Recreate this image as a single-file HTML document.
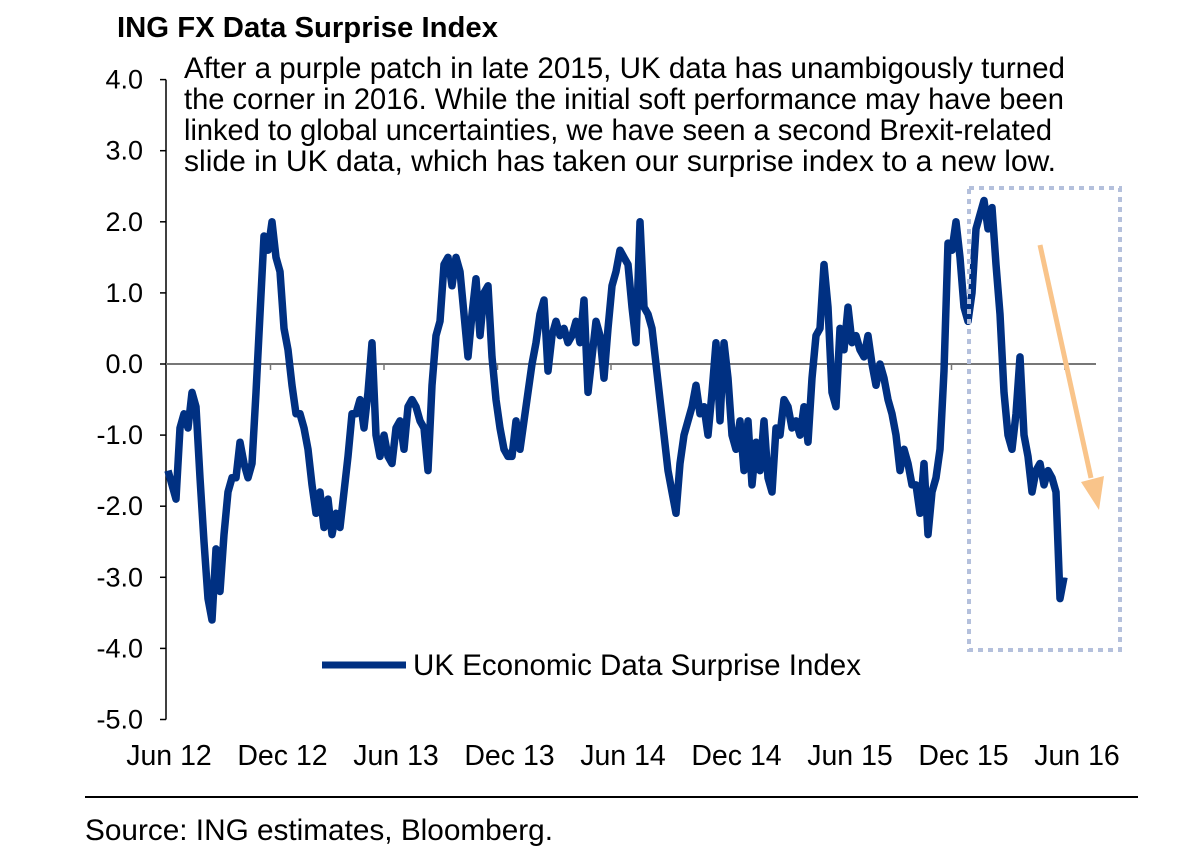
<!DOCTYPE html>
<html><head><meta charset="utf-8"><style>
body{margin:0;background:#fff;}
svg text{font-family:"Liberation Sans",Arial,sans-serif;fill:#000;}
</style></head><body>
<svg width="1190" height="856" viewBox="0 0 1190 856">
<text x="117" y="37" font-size="29" font-weight="bold" textLength="381" lengthAdjust="spacingAndGlyphs">ING FX Data Surprise Index</text>
<g font-size="29.5">
<text x="184" y="78" textLength="881" lengthAdjust="spacingAndGlyphs">After a purple patch in late 2015, UK data has unambigously turned</text>
<text x="184" y="109" textLength="880" lengthAdjust="spacingAndGlyphs">the corner in 2016. While the initial soft performance may have been</text>
<text x="184" y="140" textLength="868" lengthAdjust="spacingAndGlyphs">linked to global uncertainties, we have seen a second Brexit-related</text>
<text x="184" y="171" textLength="872" lengthAdjust="spacingAndGlyphs">slide in UK data, which has taken our surprise index to a new low.</text>
</g>
<g id="axes"></g>
<g id="series"></g>
<rect x="969" y="188" width="151" height="462" fill="none" stroke="#b4c0dc" stroke-width="4" stroke-dasharray="5,5"/>
<g>
<line x1="1040" y1="245" x2="1091" y2="478" stroke="#f9c48a" stroke-width="5"/>
<polygon points="1081,482 1104,476 1099,510" fill="#f9c48a"/>
</g>
<g>
<line x1="322" y1="665" x2="406" y2="665" stroke="#003082" stroke-width="7"/>
<text x="413" y="675" font-size="29.5" textLength="448" lengthAdjust="spacingAndGlyphs">UK Economic Data Surprise Index</text>
</g>
<line x1="85" y1="797" x2="1138" y2="797" stroke="#000" stroke-width="2"/>
<text x="85" y="840" font-size="29.5" textLength="468" lengthAdjust="spacingAndGlyphs">Source: ING estimates, Bloomberg.</text>
</svg>
<script>
const values=[-1.5,-1.7,-1.9,-0.9,-0.7,-0.9,-0.4,-0.6,-1.6,-2.5,-3.3,-3.6,-2.6,-3.2,-2.4,-1.8,-1.6,-1.6,-1.1,-1.4,-1.6,-1.4,-0.4,0.7,1.8,1.6,2.0,1.5,1.3,0.5,0.2,-0.3,-0.7,-0.7,-0.9,-1.2,-1.7,-2.1,-1.8,-2.3,-1.9,-2.4,-2.1,-2.3,-1.8,-1.3,-0.7,-0.7,-0.5,-0.9,-0.4,0.3,-1.0,-1.3,-1.0,-1.3,-1.4,-0.9,-0.8,-1.2,-0.6,-0.5,-0.6,-0.8,-0.9,-1.5,-0.3,0.4,0.6,1.4,1.5,1.1,1.5,1.3,0.7,0.1,0.7,1.2,0.4,1.0,1.1,0.1,-0.5,-0.9,-1.2,-1.3,-1.3,-0.8,-1.2,-0.8,-0.4,0.0,0.3,0.7,0.9,-0.1,0.4,0.6,0.4,0.5,0.3,0.4,0.6,0.3,0.9,-0.4,0.1,0.6,0.4,-0.2,0.5,1.1,1.3,1.6,1.5,1.4,0.8,0.3,2.0,0.8,0.7,0.5,0.0,-0.5,-1.0,-1.5,-1.8,-2.1,-1.4,-1.0,-0.8,-0.6,-0.3,-0.7,-0.6,-1.0,-0.4,0.3,-0.8,0.3,-0.2,-1.0,-1.2,-0.8,-1.5,-0.8,-1.7,-1.1,-1.5,-0.8,-1.6,-1.8,-0.9,-1.0,-0.5,-0.6,-0.9,-0.8,-1.0,-0.6,-1.1,-0.2,0.4,0.5,1.4,0.8,-0.4,-0.6,0.5,0.2,0.8,0.3,0.4,0.2,0.1,0.4,0.0,-0.3,0.0,-0.2,-0.5,-0.7,-1.0,-1.5,-1.2,-1.4,-1.7,-1.7,-2.1,-1.4,-2.4,-1.8,-1.6,-1.2,-0.1,1.7,1.6,2.0,1.5,0.8,0.6,1.0,1.9,2.1,2.3,1.9,2.2,1.4,0.7,-0.4,-1.0,-1.2,-0.7,0.1,-1.0,-1.3,-1.8,-1.5,-1.4,-1.7,-1.5,-1.6,-1.8,-3.3,-3.0];
const yTicks=[4,3,2,1,0,-1,-2,-3,-4,-5];
const xLabels=["Jun 12","Dec 12","Jun 13","Dec 13","Jun 14","Dec 14","Jun 15","Dec 15","Jun 16"];
const NS="http://www.w3.org/2000/svg";
const yScale=v=>364-v*71.1;
const xData=i=>168+i*(1064-168)/(values.length-1);
const xLab=i=>169+i*113.5;
const axes=document.getElementById('axes');
function mk(t,a,p){const e=document.createElementNS(NS,t);for(const k in a)e.setAttribute(k,a[k]);p.appendChild(e);return e;}
const ya=mk('line',{x1:166,y1:yScale(4),x2:166,y2:yScale(-5),stroke:'#000','stroke-width':1.5},axes);


yTicks.forEach(v=>{
  mk('line',{x1:160,y1:yScale(v),x2:166,y2:yScale(v),stroke:'#000','stroke-width':1.5},axes);
  const t=mk('text',{x:143,y:yScale(v)+9,'font-size':27,'text-anchor':'end'},axes);
  t.textContent=v.toFixed(1);
  
  
});
const za=mk('line',{x1:166,y1:yScale(0),x2:1096,y2:yScale(0),stroke:'#777','stroke-width':2},axes);


xLabels.forEach((l,i)=>{
  if(i>0) mk('line',{x1:xLab(i)-12,y1:yScale(0),x2:xLab(i)-12,y2:yScale(0)+6,stroke:'#777','stroke-width':1.5},axes);
  const t=mk('text',{x:xLab(i),y:765,'font-size':28.5,'text-anchor':'middle'},axes);
  t.textContent=l;
  
  
});
const d=values.map((v,i)=>(i?'L':'M')+xData(i).toFixed(1)+','+yScale(v).toFixed(1)).join('');
const p=mk('path',{d:d,fill:'none',stroke:'#003082','stroke-width':7.5,'stroke-linejoin':'round'},document.getElementById('series'));


</script>
</body></html>
